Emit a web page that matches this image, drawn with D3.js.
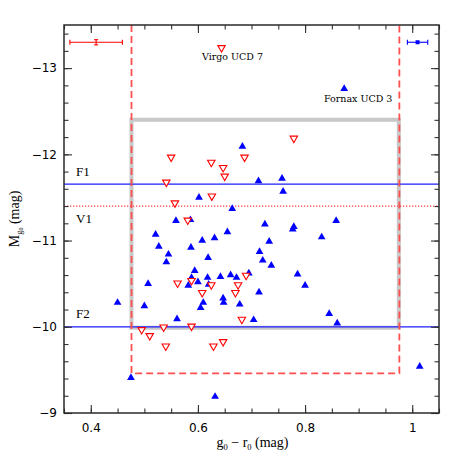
<!DOCTYPE html>
<html>
<head>
<meta charset="utf-8">
<script src="https://cdn.jsdelivr.net/npm/d3@7"></script>
<style>
  body { margin: 0; background: #fff; }
  text { fill: #000; }
</style>
</head>
<body>
<div id="chart"></div>
<script>
// Virgo UCDs (open red triangles) : g0-r0 colour and M_g0
const virgoColor = [0.644, 0.779, 0.687, 0.550, 0.625, 0.647, 0.650, 0.541, 0.626, 0.557,
  0.581, 0.588, 0.562, 0.625, 0.690, 0.675, 0.670, 0.608, 0.682, 0.495,
  0.536, 0.588, 0.510, 0.540, 0.629, 0.647];
const virgoMag = [-13.23, -12.18, -11.96, -11.96, -11.90, -11.84, -11.74, -11.67, -11.51, -11.43,
  -11.23, -10.53, -10.50, -10.48, -10.59, -10.48, -10.39, -10.39, -10.08, -9.96,
  -9.99, -10.00, -9.89, -9.77, -9.77, -9.82];

// Fornax UCDs (filled blue triangles)
const fornaxColor = [0.873, 0.683, 0.713, 0.757, 0.759, 0.602, 0.664, 0.559, 0.586, 0.858,
  0.521, 0.655, 0.631, 0.608, 0.725, 0.779, 0.777, 0.831, 0.733, 0.527,
  0.587, 0.545, 0.619, 0.541, 0.715, 0.721, 0.737, 0.594, 0.588, 0.600,
  0.618, 0.507, 0.582, 0.620, 0.642, 0.661, 0.672, 0.695, 0.786, 0.800,
  0.714, 0.450, 0.500, 0.610, 0.647, 0.648, 0.605, 0.678, 0.561, 0.704,
  0.845, 0.860, 0.475, 0.632, 1.014];
const fornaxMag = [-12.76, -12.09, -11.69, -11.72, -11.57, -11.50, -11.37, -11.23, -11.24, -11.23,
  -11.07, -11.10, -11.03, -11.00, -11.19, -11.16, -11.13, -11.04, -10.99, -10.93,
  -10.92, -10.84, -10.80, -10.75, -10.87, -10.77, -10.71, -10.65, -10.57, -10.52,
  -10.57, -10.50, -10.48, -10.49, -10.58, -10.60, -10.57, -10.62, -10.61, -10.48,
  -10.40, -10.28, -10.24, -10.28, -10.33, -10.28, -10.22, -10.26, -10.09, -10.08,
  -10.15, -10.04, -9.41, -9.19, -9.54];

// magnitude limits
const limitNames = ["F1", "V1", "F2"];
const limitMags = [-11.655, -11.40, -10.0];

// selection boxes: [colour min, colour max, bright limit, faint limit]
const greyBox = [0.476, 0.975, -12.40, -9.99];
const redBox = [0.476, 0.976, -13.5, -9.46];

// typical errors: [colour, mag, colour err, mag err]
const virgoErr = [0.410, -13.30, 0.049, 0.03];
const fornaxErr = [1.010, -13.30, 0.019, 0];

const xMajor = [0.4, 0.6, 0.8, 1.0];
const yMajor = [-9, -10, -11, -12, -13];

// set the dimensions and margins of the graph
const margin = { top: 25, right: 24, bottom: 50, left: 64 },
  width = 463 - margin.left - margin.right,
  height = 463 - margin.top - margin.bottom;

const svg = d3.select("#chart")
  .append("svg")
  .attr("width", 463)
  .attr("height", 463)
  .append("g")
  .attr("transform", `translate(${margin.left}, ${margin.top})`);

const x = d3.scaleLinear().domain([0.35, 1.05]).range([0, width]);
const y = d3.scaleLinear().domain([-9, -13.5]).range([height, 0]);

const xMinor = d3.range(0.35, 1.0501, 0.05).map(v => +v.toFixed(2));
const yMinor = d3.range(-9, -13.501, -0.2).map(v => +v.toFixed(1));

// grey box
svg.append("path")
  .attr("d", `M${x(greyBox[0])},${y(greyBox[3])} V${y(greyBox[2])} H${x(greyBox[1])} V${y(greyBox[3])} Z`)
  .attr("fill", "none")
  .attr("stroke", "#c8c8c8")
  .attr("stroke-width", 4);

// F1 / F2 lines
svg.selectAll(".flim")
  .data([0, 2])
  .join("line")
  .attr("x1", 0).attr("x2", width)
  .attr("y1", i => y(limitMags[i])).attr("y2", i => y(limitMags[i]))
  .attr("stroke", "#1e1eff")
  .attr("stroke-width", 1.2);

// V1 dotted line
svg.append("line")
  .attr("x1", 0).attr("x2", width)
  .attr("y1", y(limitMags[1])).attr("y2", y(limitMags[1]))
  .attr("stroke", "#ff4040")
  .attr("stroke-width", 1.2)
  .attr("stroke-dasharray", "1.3,1.7");

// red dashed box (open at the top)
svg.append("path")
  .attr("d", `M${x(redBox[0])},${y(redBox[2])} V${y(redBox[3])} H${x(redBox[1])} V${y(redBox[2])}`)
  .attr("fill", "none")
  .attr("stroke", "#ff5050")
  .attr("stroke-width", 1.8)
  .attr("stroke-dasharray", "7,4");

// line labels
const labelOffset = [-8.5, 17, -8.5];
svg.selectAll(".limlabel")
  .data(limitNames)
  .join("text")
  .attr("x", 12)
  .attr("y", (d, i) => y(limitMags[i]) + labelOffset[i])
  .text(d => d)
  .attr("font-family", "Liberation Serif")
  .attr("font-size", "13px");

// data points
const tri = d3.symbol().type(d3.symbolTriangle).size(26);

svg.selectAll(".fornax")
  .data(d3.zip(fornaxColor, fornaxMag))
  .join("path")
  .attr("d", tri)
  .attr("transform", d => `translate(${x(d[0])}, ${y(d[1])})`)
  .attr("fill", "#0000ff");

svg.selectAll(".virgo")
  .data(d3.zip(virgoColor, virgoMag))
  .join("path")
  .attr("d", d3.symbol().type(d3.symbolTriangle).size(24))
  .attr("transform", d => `translate(${x(d[0])}, ${y(d[1]) - 0.5}) rotate(180)`)
  .attr("fill", "#fff")
  .attr("stroke", "#ff0000")
  .attr("stroke-width", 1.1);

// named objects
svg.append("text")
  .attr("x", x(virgoColor[0]) + 11)
  .attr("y", y(virgoMag[0]) + 12)
  .attr("text-anchor", "middle")
  .attr("font-family", "DejaVu Serif")
  .attr("font-size", "9.5px")
  .text("Virgo UCD 7");

svg.append("text")
  .attr("x", x(fornaxColor[0]) + 14)
  .attr("y", y(fornaxMag[0]) + 13)
  .attr("text-anchor", "middle")
  .attr("font-family", "DejaVu Serif")
  .attr("font-size", "9.5px")
  .text("Fornax UCD 3");

// typical error bars
function errBar(e, col, centre) {
  const g = svg.append("g").attr("stroke", col).attr("stroke-width", 1.1);
  const cy = y(e[1]), x0 = x(e[0] - e[2]), x1 = x(e[0] + e[2]), cx = x(e[0]);
  g.append("line").attr("x1", x0).attr("x2", x1).attr("y1", cy).attr("y2", cy);
  g.append("line").attr("x1", x0).attr("x2", x0).attr("y1", cy - 2.5).attr("y2", cy + 2.5);
  g.append("line").attr("x1", x1).attr("x2", x1).attr("y1", cy - 2.5).attr("y2", cy + 2.5);
  if (centre === "I") {
    const y0 = y(e[1] - e[3]), y1 = y(e[1] + e[3]);
    g.append("line").attr("x1", cx).attr("x2", cx).attr("y1", y0).attr("y2", y1);
    g.append("line").attr("x1", cx - 2).attr("x2", cx + 2).attr("y1", y0).attr("y2", y0);
    g.append("line").attr("x1", cx - 2).attr("x2", cx + 2).attr("y1", y1).attr("y2", y1);
  } else {
    g.append("rect").attr("x", cx - 2).attr("y", cy - 2).attr("width", 4).attr("height", 4)
      .attr("fill", col).attr("stroke", "none");
  }
}
errBar(virgoErr, "#ff0000", "I");
errBar(fornaxErr, "#0000ff", "square");

// axes: major and minor ticks on all four sides, pointing inwards
function styleAxis(g) {
  g.select(".domain").remove();
  g.selectAll(".tick line").attr("stroke", "#333").attr("stroke-width", 1.1);
  g.selectAll("text")
    .attr("font-family", "DejaVu Sans")
    .attr("font-size", "12px")
    .attr("fill", "#000");
}

svg.append("g")
  .attr("transform", `translate(0, ${height})`)
  .call(d3.axisBottom(x).tickValues(xMajor).tickSizeInner(-8).tickSizeOuter(0).tickPadding(10)
    .tickFormat(d => d === 1 ? "1" : d3.format(".1f")(d)))
  .call(styleAxis);
svg.append("g")
  .attr("transform", `translate(0, ${height})`)
  .call(d3.axisBottom(x).tickValues(xMinor).tickSizeInner(-4.5).tickSizeOuter(0).tickFormat(""))
  .call(styleAxis);
svg.append("g")
  .call(d3.axisTop(x).tickValues(xMajor).tickSizeInner(-8).tickSizeOuter(0).tickFormat(""))
  .call(styleAxis);
svg.append("g")
  .call(d3.axisTop(x).tickValues(xMinor).tickSizeInner(-4.5).tickSizeOuter(0).tickFormat(""))
  .call(styleAxis);

svg.append("g")
  .call(d3.axisLeft(y).tickValues(yMajor).tickSizeInner(-8).tickSizeOuter(0).tickPadding(7)
    .tickFormat(d3.format("d")))
  .call(styleAxis);
svg.append("g")
  .call(d3.axisLeft(y).tickValues(yMinor).tickSizeInner(-4.5).tickSizeOuter(0).tickFormat(""))
  .call(styleAxis);
svg.append("g")
  .attr("transform", `translate(${width}, 0)`)
  .call(d3.axisRight(y).tickValues(yMajor).tickSizeInner(-8).tickSizeOuter(0).tickFormat(""))
  .call(styleAxis);
svg.append("g")
  .attr("transform", `translate(${width}, 0)`)
  .call(d3.axisRight(y).tickValues(yMinor).tickSizeInner(-4.5).tickSizeOuter(0).tickFormat(""))
  .call(styleAxis);

// frame
svg.append("rect")
  .attr("width", width)
  .attr("height", height)
  .attr("fill", "none")
  .attr("stroke", "#2a2a2a")
  .attr("stroke-width", 1.5);

// axis titles
const xTitle = svg.append("text")
  .attr("x", width / 2 + 1)
  .attr("y", height + 34)
  .attr("text-anchor", "middle")
  .attr("font-family", "Liberation Serif")
  .attr("font-size", "14px");
xTitle.append("tspan").text("g");
xTitle.append("tspan").attr("font-size", "8.5px").attr("dy", 3).text("0");
xTitle.append("tspan").attr("dy", -3).text(" \u2212 r");
xTitle.append("tspan").attr("font-size", "8.5px").attr("dy", 3).text("0");
xTitle.append("tspan").attr("dy", -3).text(" (mag)");

const yTitle = svg.append("text")
  .attr("transform", `translate(${19 - margin.left}, ${height / 2}) rotate(-90)`)
  .attr("text-anchor", "middle")
  .attr("font-family", "Liberation Serif")
  .attr("font-size", "14px");
yTitle.append("tspan").text("M");
yTitle.append("tspan").attr("font-size", "8.5px").attr("dy", 2.5).text("g");
yTitle.append("tspan").attr("font-size", "6px").attr("dy", 1.5).text("0");
yTitle.append("tspan").attr("dy", -4).text(" (mag)");
</script>
</body>
</html>
